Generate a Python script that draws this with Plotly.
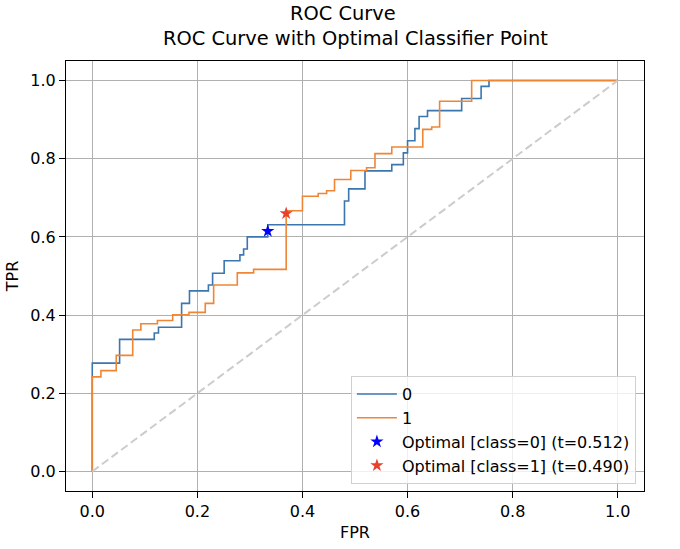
import plotly.graph_objects as go

# ROC vertices (vh steps: rise at previous fpr, then run to this fpr)
fpr0 = [0, 0.052, 0.118, 0.126, 0.170, 0.185, 0.221, 0.229, 0.251, 0.281, 0.288, 0.295, 0.334,
        0.480, 0.488, 0.519, 0.570, 0.592, 0.600, 0.614, 0.622, 0.638, 0.703, 0.740, 0.755, 1.0]
tpr0 = [0, 0.277, 0.338, 0.354, 0.369, 0.430, 0.462, 0.477, 0.507, 0.539, 0.554, 0.569, 0.600,
        0.631, 0.692, 0.723, 0.769, 0.785, 0.815, 0.846, 0.877, 0.908, 0.923, 0.954, 0.985, 1.0]

fpr1 = [0, 0.0165, 0.0456, 0.077, 0.0925, 0.124, 0.153, 0.184, 0.215, 0.231, 0.276, 0.307, 0.369,
        0.400, 0.430, 0.446, 0.461, 0.492, 0.522, 0.538, 0.570, 0.629, 0.646, 0.661, 0.722, 1.0]
tpr1 = [0, 0.242, 0.258, 0.297, 0.362, 0.378, 0.386, 0.401, 0.407, 0.430, 0.477, 0.508, 0.517,
        0.667, 0.704, 0.711, 0.718, 0.747, 0.770, 0.777, 0.813, 0.830, 0.875, 0.881, 0.947, 1.0]

chance = [0, 1]

opt0_fpr, opt0_tpr, opt0_t = 0.334, 0.615, 0.512
opt1_fpr, opt1_tpr, opt1_t = 0.369, 0.660, 0.490

font = "DejaVu Sans"

fig = go.Figure()
fig.add_trace(go.Scatter(x=fpr0, y=tpr0, mode="lines", name="0", line_shape="vh",
                         line=dict(color="#3b76af", width=1.6)))
fig.add_trace(go.Scatter(x=fpr1, y=tpr1, mode="lines", name="1", line_shape="vh",
                         line=dict(color="#ef8636", width=1.6)))
fig.add_trace(go.Scatter(x=chance, y=chance, mode="lines", showlegend=False,
                         line=dict(color="#cccccc", width=2, dash="8px,4px")))
fig.add_trace(go.Scatter(x=[opt0_fpr], y=[opt0_tpr], mode="markers",
                         name=f"Optimal [class=0] (t={opt0_t:.3f})",
                         marker=dict(symbol="star", size=10, color="blue")))
fig.add_trace(go.Scatter(x=[opt1_fpr], y=[opt1_tpr], mode="markers",
                         name=f"Optimal [class=1] (t={opt1_t:.3f})",
                         marker=dict(symbol="star", size=10, color="#e8412c")))

ax = dict(range=[-0.05, 1.05], dtick=0.2, tickformat=".1f", showgrid=True,
          gridcolor="#b0b0b0", gridwidth=1, zeroline=False, showline=True,
          linecolor="black", linewidth=1.2, mirror=True, ticks="outside",
          ticklen=6, tickcolor="black", tickfont=dict(size=16, color="black"),
          automargin=False)

fig.update_layout(
    width=680, height=549,
    margin=dict(l=66, r=36, t=61, b=58),
    paper_bgcolor="white", plot_bgcolor="white",
    font=dict(family=font, size=16, color="black"),
    xaxis=dict(ax, title=dict(text="FPR", font=dict(size=16), standoff=6)),
    yaxis=dict(ax, title=dict(text="TPR", font=dict(size=16), standoff=7)),
    legend=dict(x=0.986, y=0.016, xanchor="right", yanchor="bottom",
                bgcolor="rgba(255,255,255,0.8)", bordercolor="#d0d0d0", borderwidth=1,
                itemwidth=40, font=dict(size=16)),
    annotations=[
        dict(text="ROC Curve", xref="paper", yref="paper", x=0.48, y=1, yshift=48,
             showarrow=False, font=dict(size=19.4), xanchor="center", yanchor="middle"),
        dict(text="ROC Curve with Optimal Classifier Point", xref="paper", yref="paper",
             x=0.5, y=1, yshift=22.5, showarrow=False, font=dict(size=19.4),
             xanchor="center", yanchor="middle"),
    ],
)

# drop the default 8px body margin so the figure sits at the page corner
fig.write_html("out.html", config={"displayModeBar": False},
               post_script="document.body.style.margin='0';")
